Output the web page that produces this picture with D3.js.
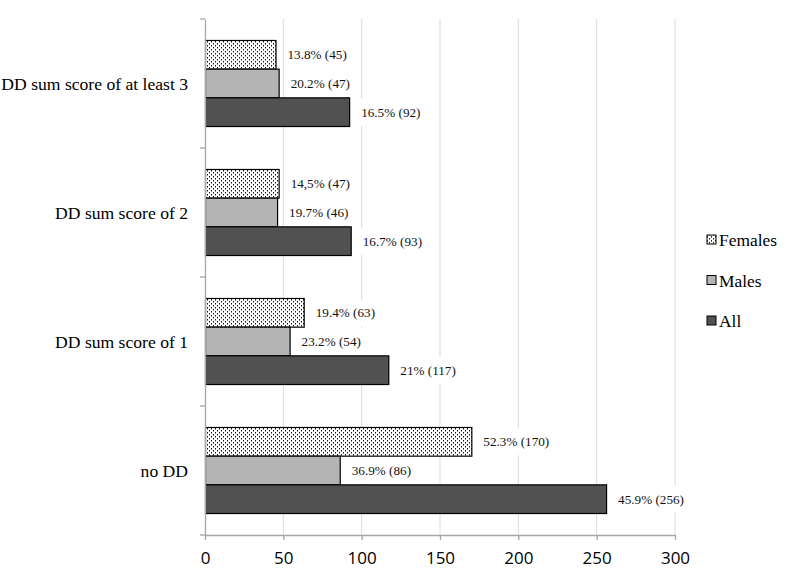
<!DOCTYPE html>
<html>
<head>
<meta charset="utf-8">
<script src="https://cdn.jsdelivr.net/npm/d3@7"></script>
<style>
  body { margin: 0; background: #fff; }
  .serif { font-family: "Liberation Serif", "Times New Roman", "DejaVu Serif", serif; }
  .sans { font-family: "Open Sans", "Liberation Sans", sans-serif; }
</style>
</head>
<body>
<div id="chart"></div>
<script>
// categories top to bottom
var categories = ["DD sum score of at least 3", "DD sum score of 2", "DD sum score of 1", "no DD"];
var seriesNames = ["Females", "Males", "All"];
var females = [45, 47, 63, 170];
var males = [47, 46, 54, 86];
var all = [92, 93, 117, 256];
var femaleLabels = ["13.8% (45)", "14,5% (47)", "19.4% (63)", "52.3% (170)"];
var maleLabels = ["20.2% (47)", "19.7% (46)", "23.2% (54)", "36.9% (86)"];
var allLabels = ["16.5% (92)", "16.7% (93)", "21% (117)", "45.9% (256)"];
var xTicks = [0, 50, 100, 150, 200, 250, 300];

var width = 789, height = 571;
var margin = {top: 19, right: 114, bottom: 36, left: 205};
var innerW = width - margin.left - margin.right,
    innerH = height - margin.top - margin.bottom;

var svg = d3.select("#chart").append("svg")
    .attr("width", width)
    .attr("height", height);

var defs = svg.append("defs");
var pat = defs.append("pattern")
    .attr("id", "dots")
    .attr("patternUnits", "userSpaceOnUse")
    .attr("width", 4).attr("height", 4);
pat.append("rect").attr("width", 4).attr("height", 4).attr("fill", "#fff");
pat.append("rect").attr("x", 0).attr("y", 0).attr("width", 1).attr("height", 1.5).attr("fill", "#111");
pat.append("rect").attr("x", 2).attr("y", 2).attr("width", 1).attr("height", 1.5).attr("fill", "#111");

var fills = {"Females": "url(#dots)", "Males": "#b4b4b4", "All": "#515151"};

var g = svg.append("g")
    .attr("transform", "translate(" + margin.left + "," + margin.top + ")");

var x = d3.scaleLinear()
    .domain([0, 300])
    .range([0, 470]);

var y = d3.scaleBand()
    .domain(categories)
    .range([0, innerH]);

var y1 = d3.scaleBand()
    .domain(seriesNames)
    .range([0, y.bandwidth()])
    .paddingOuter(0.5 * 43 / 28.7)
    .paddingInner(0);

// gridlines
g.selectAll(".grid")
  .data(xTicks.slice(1))
  .enter().append("line")
    .attr("x1", function(d) { return x(d); })
    .attr("x2", function(d) { return x(d); })
    .attr("y1", 0)
    .attr("y2", innerH)
    .attr("stroke", "#dcdcdc")
    .attr("stroke-width", 1);

var rows = categories.map(function(c, i) {
  return {cat: c, vals: [
    {s: "Females", v: females[i], lab: femaleLabels[i]},
    {s: "Males", v: males[i], lab: maleLabels[i]},
    {s: "All", v: all[i], lab: allLabels[i]}
  ]};
});

var grp = g.selectAll(".cat")
  .data(rows)
  .enter().append("g")
    .attr("class", "cat")
    .attr("transform", function(d) { return "translate(0," + y(d.cat) + ")"; });

grp.selectAll("rect.bar")
  .data(function(d) { return d.vals; })
  .enter().append("rect")
    .attr("class", "bar")
    .attr("x", x(0) + 0.5)
    .attr("y", function(d) { return y1(d.s); })
    .attr("width", function(d) { return x(d.v) - x(0); })
    .attr("height", y1.bandwidth())
    .attr("fill", function(d) { return fills[d.s]; })
    .attr("stroke", "#000")
    .attr("stroke-width", 1.2);

// value labels with white background
var labs = grp.selectAll("g.lab")
  .data(function(d) { return d.vals; })
  .enter().append("g")
    .attr("class", "lab")
    .attr("transform", function(d) {
      return "translate(" + (x(d.v) + 12) + "," + (y1(d.s) + y1.bandwidth() / 2) + ")";
    });

labs.append("text")
    .attr("class", "serif")
    .attr("font-size", 13.2)
    .attr("dy", "0.35em")
    .attr("fill", "#111")
    .text(function(d) { return d.lab; });

labs.each(function() {
  var t = d3.select(this).select("text");
  var bb = t.node().getBBox();
  d3.select(this).insert("rect", "text")
    .attr("x", bb.x - 3)
    .attr("y", -y1.bandwidth() / 2 + 1)
    .attr("width", bb.width + 6)
    .attr("height", y1.bandwidth() - 2)
    .attr("fill", "#fff");
});

// y axis
var yAxis = g.append("g")
    .call(d3.axisLeft(y).tickSize(0).tickFormat(""));
yAxis.select(".domain").attr("stroke", "#a6a6a6").attr("stroke-width", 1.3);
var yTickPos = d3.range(categories.length + 1).map(function(i) { return i * y.step(); });
g.selectAll(".ytick")
  .data(yTickPos)
  .enter().append("line")
    .attr("x1", -5).attr("x2", 0)
    .attr("y1", function(d) { return d; })
    .attr("y2", function(d) { return d; })
    .attr("stroke", "#a6a6a6")
    .attr("stroke-width", 1.3);

g.selectAll(".ylab")
  .data(categories)
  .enter().append("text")
    .attr("class", "serif")
    .attr("x", -17)
    .attr("y", function(d) { return y(d) + y.bandwidth() / 2; })
    .attr("dy", "0.35em")
    .attr("text-anchor", "end")
    .attr("font-size", 17.6)
    .attr("fill", "#000")
    .text(function(d) { return d; });

// x axis
var xAxis = g.append("g")
    .attr("transform", "translate(0," + innerH + ")")
    .call(d3.axisBottom(x).tickValues(xTicks).tickSize(5).tickPadding(12).tickSizeOuter(0));
xAxis.attr("font-family", null);
xAxis.select(".domain").attr("stroke", "#a6a6a6").attr("stroke-width", 1.3);
xAxis.selectAll(".tick line").attr("stroke", "#a6a6a6").attr("stroke-width", 1.3);
xAxis.selectAll(".tick text")
    .attr("class", "sans")
    .attr("font-size", 17)
    .attr("fill", "#000");

// legend
var legend = svg.append("g")
    .attr("transform", "translate(707,240)");
var li = legend.selectAll(".li")
  .data(seriesNames)
  .enter().append("g")
    .attr("transform", function(d, i) { return "translate(0," + (i * 40.5) + ")"; });
li.append("rect")
    .attr("x", 0).attr("y", -5)
    .attr("width", 9).attr("height", 9)
    .attr("fill", function(d) { return fills[d]; })
    .attr("stroke", "#000")
    .attr("stroke-width", 1);
li.append("text")
    .attr("class", "serif")
    .attr("x", 12)
    .attr("dy", "0.35em")
    .attr("font-size", 17.4)
    .attr("fill", "#000")
    .text(function(d) { return d; });
</script>
</body>
</html>
